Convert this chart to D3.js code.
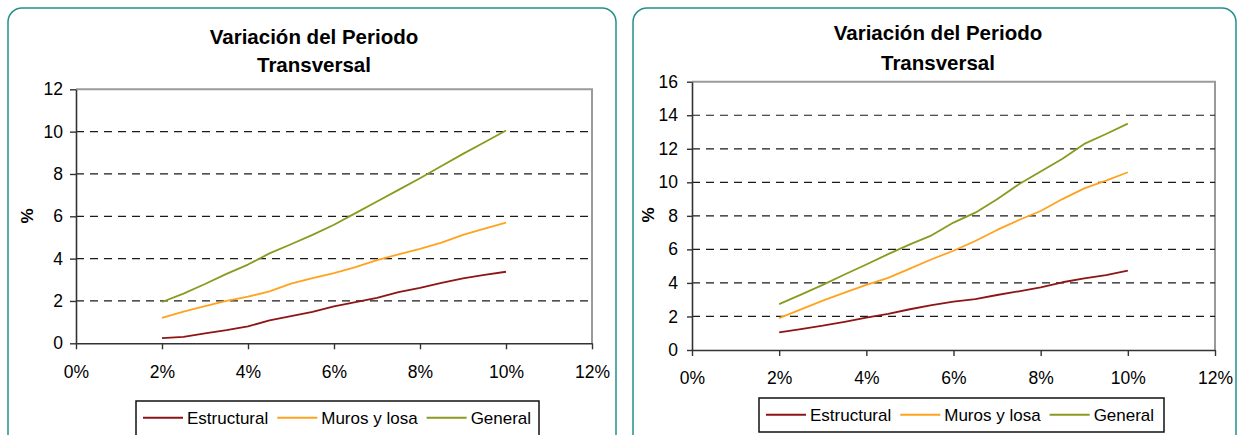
<!DOCTYPE html>
<html>
<head>
<meta charset="utf-8">
<script src="https://cdn.jsdelivr.net/npm/d3@7"></script>
<style>
  html, body { margin: 0; padding: 0; background: #fff; }
  svg { display: block; }
  text { font-family: "Liberation Sans", Arial, sans-serif; }
</style>
</head>
<body>
<svg id="chart" width="1239" height="435"></svg>
<script>
// Drift ratio (%) at which the period variation was evaluated
const drift = [2, 2.5, 3, 3.5, 4, 4.5, 5, 5.5, 6, 6.5, 7, 7.5, 8, 8.5, 9, 9.5, 10];

// First model: period variation (%)
const estructuralA = [0.24, 0.3, 0.47, 0.62, 0.8, 1.08, 1.28, 1.48, 1.74, 1.95, 2.15, 2.42, 2.62, 2.86, 3.07, 3.23, 3.38];
const murosA       = [1.2, 1.5, 1.76, 2.0, 2.2, 2.45, 2.82, 3.08, 3.32, 3.6, 3.93, 4.2, 4.46, 4.76, 5.12, 5.42, 5.7];
const generalA     = [1.95, 2.35, 2.8, 3.28, 3.72, 4.25, 4.68, 5.12, 5.6, 6.15, 6.7, 7.25, 7.8, 8.38, 8.95, 9.5, 10.05];

// Second model: period variation (%)
const estructuralB = [1.05, 1.25, 1.45, 1.68, 1.93, 2.15, 2.43, 2.68, 2.88, 3.04, 3.28, 3.5, 3.74, 4.04, 4.27, 4.47, 4.73];
const murosB       = [1.9, 2.42, 2.94, 3.42, 3.88, 4.3, 4.85, 5.41, 5.92, 6.5, 7.16, 7.75, 8.29, 9.0, 9.64, 10.1, 10.6];
const generalB     = [2.74, 3.3, 3.88, 4.5, 5.1, 5.72, 6.3, 6.84, 7.6, 8.19, 8.99, 9.88, 10.64, 11.41, 12.29, 12.88, 13.5];

const seriesNames = ["Estructural", "Muros y losa", "General"];
const xTicks = [0, 2, 4, 6, 8, 10, 12];
const yTicksA = [0, 2, 4, 6, 8, 10, 12];
const yTicksB = [0, 2, 4, 6, 8, 10, 12, 14, 16];
const titleLines = ["Variación del Periodo", "Transversal"];
const yLabel = "%";

const colors = ["#8e1515", "#ffa31f", "#8b9a1e"];

const svg = d3.select("#chart");

const panels = [
  {
    box: { x: 8, y: 8, w: 608, h: 440 },
    plot: { left: 76, right: 592, top: 89.3, bottom: 343.3 },
    yMax: 12, yTicks: yTicksA,
    series: [estructuralA, murosA, generalA],
    titleX: 314, titleY: [43.5, 71.5],
    yLabelX: 33, yLabelY: 216,
    yTickSize: 6, yPad: 7, xPad: 16,
    legend: { x: 136, y: 401, w: 403, h: 36 }
  },
  {
    box: { x: 633, y: 8, w: 603, h: 440 },
    plot: { left: 692, right: 1215, top: 81.7, bottom: 350 },
    yMax: 16, yTicks: yTicksB,
    series: [estructuralB, murosB, generalB],
    titleX: 938, titleY: [39.5, 69.5],
    yLabelX: 654, yLabelY: 215,
    yTickSize: 5, yPad: 9, xPad: 16,
    legend: { x: 759, y: 398, w: 405, h: 34 }
  }
];

panels.forEach(p => {
  const g = svg.append("g");

  // Rounded frame around each chart
  g.append("rect")
    .attr("x", p.box.x).attr("y", p.box.y)
    .attr("width", p.box.w).attr("height", p.box.h)
    .attr("rx", 14).attr("ry", 14)
    .attr("fill", "#fff")
    .attr("stroke", "#23908c").attr("stroke-width", 1.5);

  // Title
  const title = g.append("text")
    .attr("text-anchor", "middle")
    .attr("font-size", 20.5)
    .attr("font-weight", "bold")
    .attr("fill", "#000");
  titleLines.forEach((t, i) => {
    title.append("tspan").attr("x", p.titleX).attr("y", p.titleY[i]).text(t);
  });

  const x = d3.scaleLinear().domain([0, 12]).range([p.plot.left, p.plot.right]);
  const y = d3.scaleLinear().domain([0, p.yMax]).range([p.plot.bottom, p.plot.top]);

  // Plot area outline (top and right edges in grey)
  g.append("path")
    .attr("d", `M${x(0)},${y(p.yMax)}H${x(12)}V${y(0)}`)
    .attr("fill", "none")
    .attr("stroke", "#9a9a9a").attr("stroke-width", 2);

  // Dashed horizontal gridlines
  g.append("g").selectAll("line")
    .data(p.yTicks.filter(v => v > 0 && v < p.yMax))
    .join("line")
    .attr("x1", x(0)).attr("x2", x(12))
    .attr("y1", d => y(d)).attr("y2", d => y(d))
    .attr("stroke", "#1a1a1a").attr("stroke-width", 1.2)
    .attr("stroke-dasharray", "8,6");

  // Axes
  const yAxis = g.append("g")
    .attr("transform", `translate(${x(0)},0)`)
    .call(d3.axisLeft(y).tickValues(p.yTicks).tickSize(p.yTickSize).tickPadding(p.yPad).tickSizeOuter(0));
  const xAxis = g.append("g")
    .attr("transform", `translate(0,${y(0)})`)
    .call(d3.axisBottom(x).tickValues(xTicks).tickFormat(d => d + "%").tickSize(6).tickPadding(p.xPad).tickSizeOuter(0));

  [yAxis, xAxis].forEach(a => {
    a.select(".domain").attr("stroke", "#333").attr("stroke-width", 1.6);
    a.selectAll(".tick line").attr("stroke", "#333").attr("stroke-width", 1.4);
    a.selectAll(".tick text")
      .attr("font-size", 17.5)
      .attr("font-family", "Liberation Sans, Arial, sans-serif")
      .attr("fill", "#000");
  });

  // Y axis title
  g.append("text")
    .attr("transform", `translate(${p.yLabelX},${p.yLabelY}) rotate(-90)`)
    .attr("text-anchor", "middle")
    .attr("font-size", 17)
    .attr("font-weight", "bold")
    .text(yLabel);

  // Series lines
  const line = d3.line()
    .x((d, i) => x(drift[i]))
    .y(d => y(d));
  p.series.forEach((vals, i) => {
    g.append("path")
      .datum(vals)
      .attr("d", line)
      .attr("fill", "none")
      .attr("stroke", colors[i])
      .attr("stroke-width", 1.8)
      .attr("stroke-linejoin", "round");
  });

  // Legend
  const L = p.legend;
  g.append("rect")
    .attr("x", L.x).attr("y", L.y).attr("width", L.w).attr("height", L.h)
    .attr("fill", "#fff").attr("stroke", "#111").attr("stroke-width", 1.5);
  let cx = L.x + 7;
  const ly = L.y + 16.7;
  seriesNames.forEach((name, i) => {
    g.append("line")
      .attr("x1", cx).attr("x2", cx + 40)
      .attr("y1", ly).attr("y2", ly)
      .attr("stroke", colors[i]).attr("stroke-width", 2);
    const t = g.append("text")
      .attr("x", cx + 44).attr("y", ly + 6.5)
      .attr("font-size", 17)
      .attr("fill", "#000")
      .text(name);
    cx += 44 + t.node().getComputedTextLength() + 9;
  });
});
</script>
</body>
</html>
